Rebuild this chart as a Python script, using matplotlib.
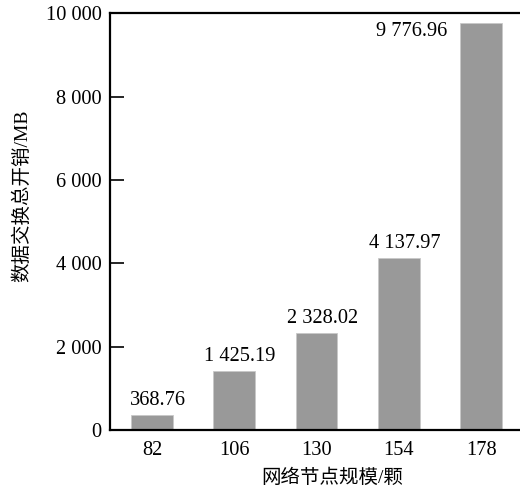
import matplotlib.pyplot as plt

# data
nodes = ["82", "106", "130", "154", "178"]
overhead = [368.76, 1425.19, 2328.02, 4137.97, 9776.96]
yticks = [0, 2000, 4000, 6000, 8000, 10000]

plt.rcParams['font.family'] = ['Liberation Serif', 'Noto Sans CJK SC']

fig = plt.figure(figsize=(5.2, 4.9), dpi=100)
# axes right edge runs past the figure, so the right spine is cut off
ax = fig.add_axes([110 / 520, 60 / 490, 413 / 520, 416.5 / 490])

x = range(len(nodes))
ax.bar(x, overhead, width=0.51, color='#999999', edgecolor='#c8c8c8', linewidth=0.6)

def fmt(v, dec=2):
    return f"{v:,.{dec}f}".replace(",", " ")

for i, v in enumerate(overhead):
    if i == len(overhead) - 1:
        # tallest bar: label sits to the left of the bar top
        ax.text(i - 0.41, v + 20, fmt(v), ha='right', va='top', fontsize=14.7)
    else:
        ax.text(i + 0.07, v + 110, fmt(v), ha='center', va='bottom', fontsize=14.7)

ax.set_xlim(-0.51, 4.51)
ax.set_ylim(0, 10000)
ax.set_xticks(list(x))
ax.set_xticklabels(nodes)
ax.set_yticks(yticks)
ax.set_yticklabels([fmt(t, 0) for t in yticks])

ax.tick_params(axis='y', direction='in', length=10, width=1.2, labelsize=14.7, pad=6)
ax.tick_params(axis='x', length=0, labelsize=14.7, pad=8)
for s in ax.spines.values():
    s.set_linewidth(1.6)

ax.set_xlabel("网络节点规模/颗", fontsize=14, va='center')
ax.set_ylabel("数据交换总开销/MB", fontsize=14, va='center')
ax.xaxis.set_label_coords(0.5375, -0.115)
ax.yaxis.set_label_coords(-0.213, 0.562)

fig.savefig("out.png", dpi=100)
